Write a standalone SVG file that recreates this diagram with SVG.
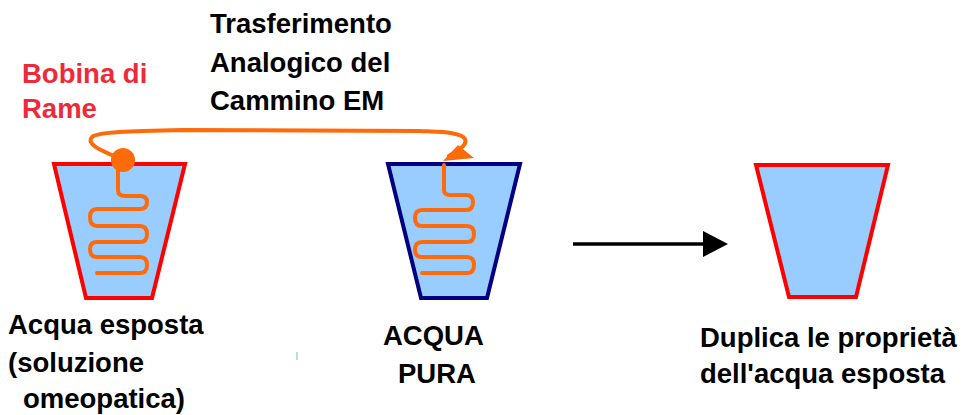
<svg xmlns="http://www.w3.org/2000/svg" width="963" height="415" viewBox="0 0 963 415">
<style>
.cup{fill:#99ccff;stroke-width:4;stroke-linejoin:miter}
.red{stroke:#ff0000}
.navy{stroke:#000080}
.wire{fill:none;stroke:#ff6a0a;stroke-width:4;stroke-linecap:round;stroke-linejoin:round}
.t{font-family:"Liberation Sans",Arial,sans-serif;font-weight:bold;font-size:27.5px;fill:#000}
.tr{fill:#ee2a3a}
</style>
<defs>
<marker id="ah" viewBox="0 0 25 26" refX="3" refY="13" markerWidth="25" markerHeight="26" markerUnits="userSpaceOnUse" orient="auto"><path d="M0,0 L25,13 L0,26 z" fill="#000"/></marker>
</defs>
<rect width="963" height="415" fill="#fff"/>
<g id="cup1">
<polygon class="cup red" points="54,164 185,164 152,298 86,298"/>
<path class="wire" d="M118,160 L118,190 Q118,196 125,196 L140,196 Q147,196 147,202 Q147,209 140,209 L97,209 Q90,209 90,217 Q90,226 97,226 L140,226 Q147,226 147,234 Q147,242 140,242 L97,242 Q90,242 90,249 Q90,257 97,257 L140,257 Q147,257 147,265 Q147,273 140,273 L97,273"/>
<circle cx="123" cy="160" r="12" fill="#ff6a0a"/>
</g>
<g id="cup2">
<polygon class="cup navy" points="388,164 520,164 487,298 421,298"/>
<path class="wire" d="M444,165 L444,190 Q444,195 450,195 L466,195 Q473,195 473,202 Q473,210 466,210 L422,210 Q415,210 415,218 Q415,226 422,226 L467,226 Q474,226 474,234 Q474,242 467,242 L422,242 Q415,242 415,250 Q415,257 422,257 L467,257 Q474,257 474,265 Q474,273 467,273 L422,273"/>
</g>
<g id="cup3">
<polygon class="cup red" points="756,165 888,165 856,297 789,297"/>
</g>
<g id="connectors">
<path class="wire" d="M114,156 C100,150 86,144 92,137 C97,132 130,131 183,130 L420,131 C440,132 462,132 465,139 C468,146 456,151 449,156"/>
<polygon points="443,161 458,145 474,158" fill="#ff6a0a"/>
<line x1="573" y1="244" x2="706" y2="244" stroke="#000" stroke-width="3.5" marker-end="url(#ah)"/>
</g>
<rect x="296" y="352" width="2" height="8" fill="#b8dcf0"/>
<g id="labels">
<text class="t" x="210" y="33">Trasferimento</text>
<text class="t" x="210" y="72">Analogico del</text>
<text class="t" x="210" y="110">Cammino EM</text>
<text class="t tr" x="22" y="83">Bobina di</text>
<text class="t tr" x="22" y="118">Rame</text>
<text class="t" x="8" y="334">Acqua esposta</text>
<text class="t" x="8" y="372">(soluzione</text>
<text class="t" x="23" y="408">omeopatica)</text>
<text class="t" x="383" y="345">ACQUA</text>
<text class="t" x="398" y="383">PURA</text>
<text class="t" x="700" y="347">Duplica le proprietà</text>
<text class="t" x="700" y="383">dell'acqua esposta</text>
</g>
</svg>
